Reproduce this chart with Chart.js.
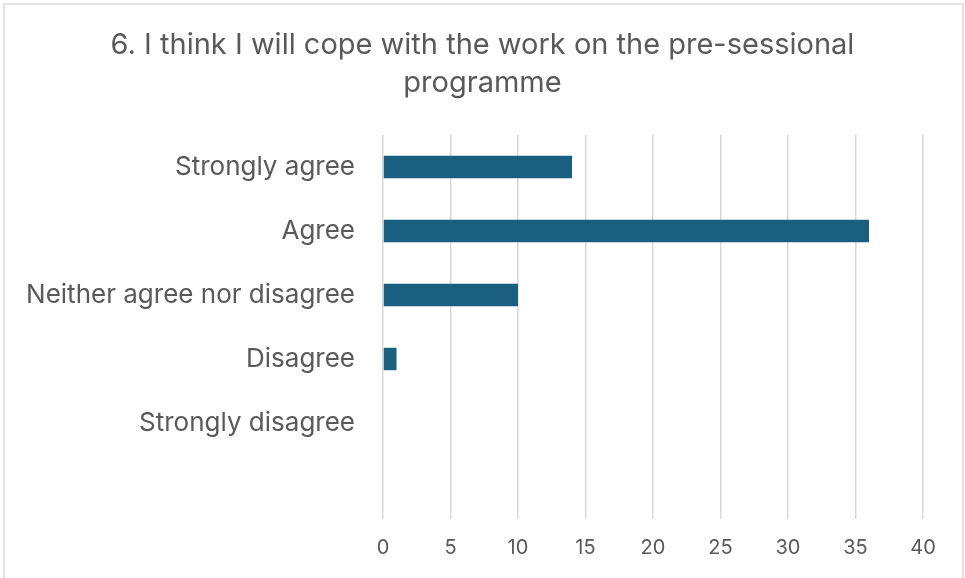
<!DOCTYPE html>
<html lang="en">
<head>
    <meta charset="UTF-8">
    <title>Pre-sessional survey - Q6</title>
    <script src="https://cdn.jsdelivr.net/npm/chart.js"></script>
    <style>
        html, body { margin: 0; padding: 0; background: #fff; }
        #wrap { width: 965px; height: 578px; }
    </style>
</head>
<body>
    <div id="wrap"><canvas id="q6Chart" width="965" height="578"></canvas></div>

    <script>
        // Survey answers, top to bottom (last slot is left empty)
        const answers = ['Strongly agree', 'Agree', 'Neither agree nor disagree', 'Disagree', 'Strongly disagree', ''];
        const counts = [14, 36, 10, 1, 0, null];
        const titleLines = ['6. I think I will cope with the work on the pre-sessional', 'programme'];
        const xMax = 40;
        const xStep = 5;

        const textColor = '#595959';
        const fontFamily = 'Inter, "Open Sans", sans-serif';

        // white background plus the thin grey frame around the chart
        const frame = {
            id: 'frame',
            beforeDraw(chart) {
                const c = chart.ctx;
                c.save();
                c.fillStyle = '#fff';
                c.fillRect(0, 0, chart.width, chart.height);
                c.strokeStyle = '#d9d9d9';
                c.lineWidth = 1.5;
                c.strokeRect(4, 4, chart.width - 6, chart.height + 10);
                c.restore();
            }
        };

        const ctx = document.getElementById('q6Chart').getContext('2d');
        new Chart(ctx, {
            type: 'bar',
            data: {
                labels: answers,
                datasets: [{
                    data: counts,
                    backgroundColor: '#1a5f7f',
                    borderWidth: 0,
                    categoryPercentage: 1,
                    barPercentage: 0.35
                }]
            },
            options: {
                indexAxis: 'y',
                responsive: false,
                animation: false,
                layout: { padding: 0 },
                plugins: {
                    legend: { display: false },
                    tooltip: { enabled: false },
                    title: {
                        display: true,
                        text: titleLines,
                        color: textColor,
                        font: { family: fontFamily, size: 29, weight: 'normal', lineHeight: 1.31 },
                        padding: { top: 26, bottom: 33 }
                    }
                },
                scales: {
                    x: {
                        min: 0,
                        max: xMax,
                        ticks: {
                            stepSize: xStep,
                            color: textColor,
                            padding: 17,
                            font: { family: fontFamily, size: 20 }
                        },
                        grid: { color: '#d9d9d9', lineWidth: 1.5, drawTicks: false },
                        border: { display: false },
                        afterFit(scale) { scale.height = 59; }
                    },
                    y: {
                        ticks: {
                            color: textColor,
                            padding: 28,
                            font: { family: fontFamily, size: 26 }
                        },
                        grid: { display: false, drawTicks: false },
                        border: { display: false },
                        afterFit(scale) { scale.width = 383; }
                    },
                    // empty right-hand axis, only reserves the right margin
                    yRight: {
                        type: 'linear',
                        position: 'right',
                        ticks: { display: false },
                        grid: { display: false, drawTicks: false },
                        border: { display: false },
                        afterFit(scale) { scale.width = 42; }
                    }
                }
            },
            plugins: [frame]
        });
    </script>
</body>
</html>
